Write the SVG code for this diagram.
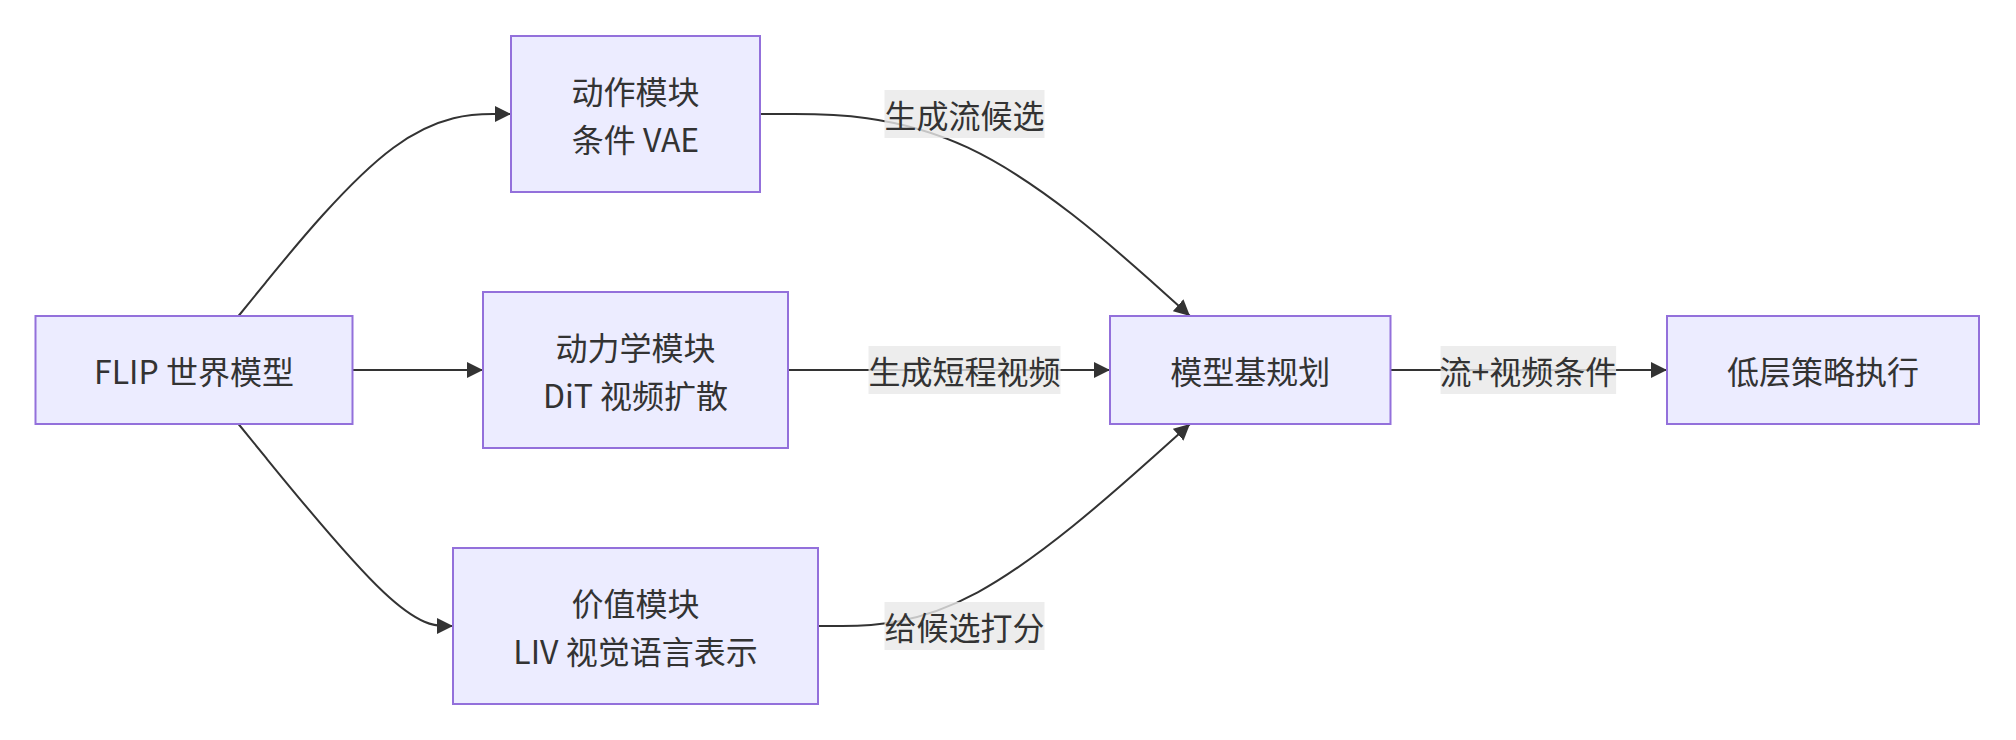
<svg xmlns="http://www.w3.org/2000/svg" width="2016" height="740" viewBox="0 0 2016 740">
<style>
.node rect{fill:#ECECFF;stroke:#9370DB;stroke-width:2}
.t{font-family:"Noto Sans CJK SC","Noto Sans",sans-serif;font-size:32px;fill:#333333;text-anchor:middle;dominant-baseline:central}
.edge{fill:none;stroke:#333333;stroke-width:2}
.lbl rect{fill:#E8E8E8;fill-opacity:0.8;stroke:none}
</style>
<defs>
<marker id="arrow" viewBox="0 0 10 10" refX="10" refY="5" markerWidth="16" markerHeight="16" markerUnits="userSpaceOnUse" orient="auto">
<path d="M0,0 L10,5 L0,10 z" fill="#333333"/>
</marker>
</defs>
<rect width="2016" height="740" fill="#ffffff"/>
<g id="connectors">
<path class="edge" marker-end="url(#arrow)" d="M238.5,316 L265.9,282.3 C293.25,248.7 348,181.3 393.4,147.7 C438.8,114 474.9,114 493,114 L511,114"/>
<path class="edge" marker-end="url(#arrow)" d="M238.5,424 L265.9,457.7 C293.25,491.3 348,558.7 383.75,592.3 C419.5,626 436.25,626 444.6,626 L453,626"/>
<path class="edge" marker-end="url(#arrow)" d="M352.5,370 L483,370"/>
<path class="edge" marker-end="url(#arrow)" d="M760,114 L794.1,114 C828.2,114 896.3,114 968,147.7 C1039.7,181.3 1114.8,248.7 1152.4,282.3 L1190,316"/>
<path class="edge" marker-end="url(#arrow)" d="M788,370 L1110,370"/>
<path class="edge" marker-end="url(#arrow)" d="M818,626 L842.4,626 C866.8,626 915.7,626 977.7,592.3 C1039.7,558.7 1114.8,491.3 1152.4,457.7 L1190,424"/>
<path class="edge" marker-end="url(#arrow)" d="M1390.5,370 L1667,370"/>
<g class="lbl">
<rect x="884.5" y="90" width="160" height="48"/>
<text class="t" x="964.5" y="114">生成流候选</text>
<rect x="868.5" y="346" width="192" height="48"/>
<text class="t" x="964.5" y="370">生成短程视频</text>
<rect x="884.5" y="602" width="160" height="48"/>
<text class="t" x="964.5" y="626">给候选打分</text>
<rect x="1440.6" y="346" width="175.5" height="48"/>
<text class="t" x="1528.4" y="370">流+视频条件</text>
</g>
</g>
<g id="flip" class="node">
<rect x="35.5" y="316" width="317" height="108"/>
<text class="t" x="194" y="370">FLIP 世界模型</text>
</g>
<g id="action" class="node">
<rect x="511" y="36" width="249" height="156"/>
<text class="t" x="635.5" y="90">动作模块</text>
<text class="t" x="635.5" y="138">条件 VAE</text>
</g>
<g id="dynamics" class="node">
<rect x="483" y="292" width="305" height="156"/>
<text class="t" x="635.5" y="346">动力学模块</text>
<text class="t" x="635.5" y="394">DiT 视频扩散</text>
</g>
<g id="value" class="node">
<rect x="453" y="548" width="365" height="156"/>
<text class="t" x="635.5" y="602">价值模块</text>
<text class="t" x="635.5" y="650">LIV 视觉语言表示</text>
</g>
<g id="planner" class="node">
<rect x="1110" y="316" width="280.5" height="108"/>
<text class="t" x="1250.25" y="370">模型基规划</text>
</g>
<g id="lowlevel" class="node">
<rect x="1667" y="316" width="312" height="108"/>
<text class="t" x="1823" y="370">低层策略执行</text>
</g>
</svg>
